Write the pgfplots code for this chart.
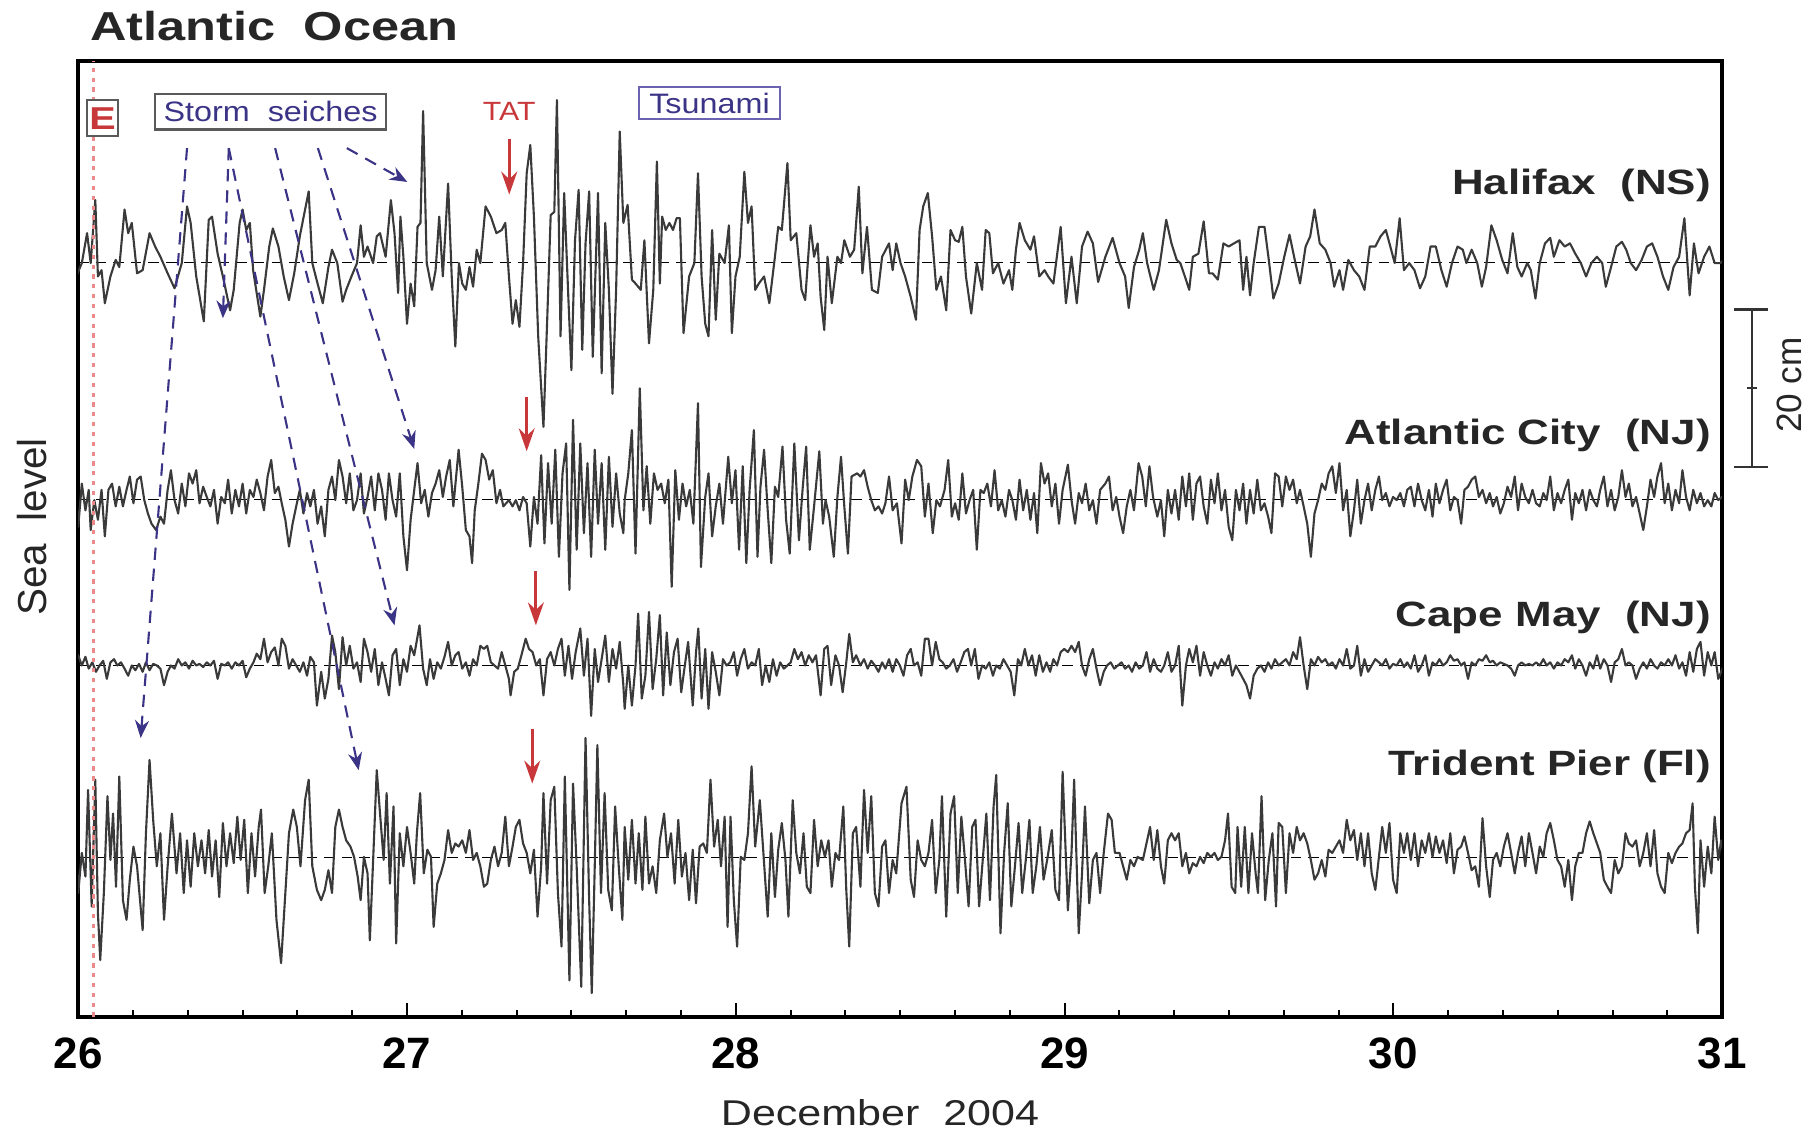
\documentclass[border=0pt]{standalone}
\usepackage{fontspec}
\setmainfont{Liberation Sans}
\newfontfamily\wideB{Liberation Sans}[FakeStretch=1.25]
\newfontfamily\wideR{Liberation Sans}[FakeStretch=1.15]
\newfontfamily\wideX{Liberation Sans}[FakeStretch=1.2]
\usepackage{pgfplots}
\pgfplotsset{compat=1.18}
\usepackage{pgfplotstable}
\usetikzlibrary{arrows.meta}

\definecolor{trace}{HTML}{3A3A3A}
\definecolor{seiche}{HTML}{3B3486}
\definecolor{tatred}{HTML}{C8383A}
\definecolor{eqred}{HTML}{EB8A8A}
\definecolor{boxgray}{HTML}{5A5A5A}
\definecolor{tsubox}{HTML}{6B63B0}

\tikzset{
  trace/.style={draw=trace, line width=0.6pt, line join=round},
  base/.style={black, line width=0.4pt, dash pattern=on 3pt off 2pt},
}

% sea level anomalies, cm; time in days of December 2004
\pgfplotstableread[row sep=\\]{
t h\\
25.994 -1.8\\26.011 -0.1\\26.027 3.7\\26.038 -0.1\\26.052 7.9\\26.060 -1.8\\26.071 -1.0\\26.081 -5.2\\26.098 -1.8\\26.114 0.3\\
26.125 -0.6\\26.141 6.7\\26.152 3.7\\26.163 5.0\\26.179 -1.4\\26.196 -1.0\\26.217 3.7\\26.234 2.0\\26.250 0.7\\26.272 -1.4\\
26.293 -3.3\\26.315 -0.1\\26.331 7.1\\26.342 5.0\\26.359 -1.8\\26.382 -7.5\\26.397 5.4\\26.407 5.8\\26.424 1.1\\26.440 -1.8\\
26.462 -6.1\\26.473 -3.5\\26.491 5.0\\26.500 6.7\\26.511 4.1\\26.522 5.0\\26.532 -1.0\\26.554 -6.9\\26.565 -3.5\\26.581 2.0\\
26.592 4.3\\26.609 2.0\\26.625 -1.8\\26.641 -4.8\\26.657 -1.4\\26.674 3.3\\26.690 6.7\\26.701 9.0\\26.712 -0.1\\26.728 -2.7\\
26.744 -5.2\\26.761 -0.6\\26.772 1.6\\26.788 -0.1\\26.804 -5.0\\26.815 -3.5\\26.831 -1.8\\26.848 -0.1\\26.859 4.7\\26.869 0.7\\
26.880 2.0\\26.897 -0.1\\26.908 3.3\\26.918 3.7\\26.935 0.7\\26.951 7.9\\26.962 3.7\\26.973 -3.9\\26.980 5.8\\26.989 0.7\\
27.000 -7.8\\27.011 -2.7\\27.022 -5.6\\27.032 4.5\\27.041 5.0\\27.049 19.2\\27.060 -0.1\\27.076 -3.5\\27.087 -1.0\\27.098 5.8\\
27.109 -1.8\\27.125 10.0\\27.136 -1.8\\27.147 -10.7\\27.158 -0.1\\27.168 -2.7\\27.179 -3.5\\27.190 -0.6\\27.201 -3.1\\27.212 1.6\\
27.223 -0.1\\27.239 7.1\\27.255 5.8\\27.272 3.7\\27.288 4.1\\27.299 5.0\\27.310 -1.8\\27.321 -7.8\\27.331 -4.8\\27.342 -8.2\\
27.353 -0.1\\27.364 11.3\\27.375 14.9\\27.386 5.8\\27.399 -9.4\\27.415 -20.9\\27.426 -7.8\\27.437 6.0\\27.448 6.4\\27.456 20.6\\
27.467 -9.4\\27.478 8.8\\27.491 -4.8\\27.500 -13.7\\27.511 2.8\\27.522 9.2\\27.533 -11.1\\27.543 2.4\\27.554 9.0\\27.565 -12.0\\
27.581 8.8\\27.592 -14.1\\27.603 5.0\\27.614 -3.5\\27.625 -16.7\\27.636 -3.5\\27.647 16.6\\27.658 5.0\\27.671 7.3\\27.684 -2.2\\
27.695 -2.7\\27.711 -3.5\\27.722 2.8\\27.736 -10.3\\27.749 -3.5\\27.760 12.8\\27.769 -2.7\\27.776 5.8\\27.787 4.1\\27.798 5.0\\
27.809 4.1\\27.820 5.6\\27.830 5.6\\27.841 -9.0\\27.858 -1.8\\27.874 -0.1\\27.885 11.3\\27.896 -1.8\\27.907 -7.8\\27.917 -9.4\\
27.928 4.1\\27.939 -7.3\\27.950 1.1\\27.966 -0.1\\27.979 4.7\\27.988 -9.0\\27.999 -1.8\\28.012 0.7\\28.026 11.5\\28.037 5.0\\
28.048 7.1\\28.059 -3.5\\28.070 -2.7\\28.086 -1.8\\28.102 -5.2\\28.119 0.7\\28.129 4.5\\28.140 4.1\\28.157 12.6\\28.167 2.8\\
28.184 3.7\\28.200 -3.5\\28.211 -4.8\\28.227 4.7\\28.238 0.7\\28.249 2.4\\28.258 -4.4\\28.269 -8.6\\28.279 0.7\\28.292 -5.2\\
28.309 0.7\\28.320 -0.1\\28.330 2.8\\28.347 0.7\\28.360 1.6\\28.374 9.6\\28.385 -1.4\\28.399 4.5\\28.414 -3.5\\28.432 -3.9\\
28.445 0.7\\28.466 2.4\\28.477 -1.0\\28.488 2.4\\28.501 -0.1\\28.515 -1.8\\28.532 -4.4\\28.548 -7.3\\28.559 4.1\\28.570 7.1\\
28.584 8.8\\28.597 3.3\\28.610 -3.5\\28.624 -1.8\\28.640 -6.1\\28.653 4.1\\28.667 2.8\\28.678 2.6\\28.689 4.5\\28.700 -1.8\\
28.716 -6.5\\28.733 -0.1\\28.749 -3.5\\28.760 4.1\\28.771 3.7\\28.782 -1.4\\28.798 -0.1\\28.814 -2.7\\28.831 -1.0\\28.841 -3.5\\
28.852 1.6\\28.863 5.0\\28.879 2.8\\28.896 1.6\\28.907 3.3\\28.923 -1.8\\28.939 -1.0\\28.950 -1.8\\28.966 -2.7\\28.988 4.5\\
29.004 -5.2\\29.021 0.7\\29.037 -5.2\\29.053 2.0\\29.070 3.9\\29.086 2.4\\29.102 -2.5\\29.124 0.7\\29.146 3.1\\29.167 -0.1\\
29.184 -1.8\\29.195 -5.8\\29.211 -0.6\\29.227 1.6\\29.238 3.7\\29.251 -0.1\\29.271 -3.5\\29.287 -1.0\\29.309 5.4\\29.325 2.4\\
29.341 0.3\\29.352 -0.1\\29.369 -2.2\\29.379 -3.5\\29.390 0.7\\29.407 1.1\\29.423 5.2\\29.439 -1.4\\29.450 -1.4\\29.466 -2.2\\
29.483 2.4\\29.499 2.0\\29.515 2.4\\29.532 2.8\\29.543 -3.5\\29.553 0.7\\29.564 -4.2\\29.575 -0.1\\29.591 4.5\\29.608 4.5\\
29.621 0.3\\29.635 -4.6\\29.651 -2.7\\29.668 0.7\\29.684 3.5\\29.700 0.3\\29.716 -2.7\\29.733 2.0\\29.747 3.3\\29.760 6.7\\
29.776 2.4\\29.793 1.6\\29.809 -0.1\\29.820 -3.1\\29.836 -1.0\\29.847 -3.5\\29.863 0.3\\29.880 -1.0\\29.896 -1.8\\29.912 -3.5\\
29.928 2.0\\29.945 2.0\\29.961 3.3\\29.977 4.1\\29.988 2.4\\30.004 -0.1\\30.019 5.6\\30.032 -1.0\\30.048 -0.1\\30.064 -1.0\\
30.081 -3.3\\30.097 -1.8\\30.113 2.0\\30.129 2.0\\30.146 -1.0\\30.162 -3.1\\30.178 -0.1\\30.195 2.0\\30.211 1.6\\30.222 -0.1\\
30.238 1.6\\30.255 -0.1\\30.269 -3.1\\30.282 -0.6\\30.298 4.7\\30.314 2.8\\30.331 0.3\\30.347 -1.4\\30.363 3.7\\30.377 -0.6\\
30.390 -1.8\\30.407 -0.1\\30.418 -1.0\\30.432 -4.6\\30.445 -0.1\\30.461 2.4\\30.477 3.1\\30.488 0.7\\30.505 2.8\\30.521 2.0\\
30.537 2.4\\30.553 1.1\\30.570 -0.1\\30.586 -1.8\\30.602 -0.1\\30.619 0.7\\30.635 -0.1\\30.646 -3.1\\30.662 -0.6\\30.678 2.0\\
30.695 2.6\\30.708 1.6\\30.722 -0.1\\30.738 -1.0\\30.755 0.3\\30.771 2.0\\30.787 2.4\\30.803 0.7\\30.820 -1.8\\30.836 -3.5\\
30.852 -0.6\\30.869 0.7\\30.885 5.6\\30.901 -4.2\\30.914 2.4\\30.928 -1.4\\30.945 0.7\\30.961 2.0\\30.977 -0.1\\30.994 -0.1\\
31.005 0.3\\
}\halifax

\pgfplotstableread[row sep=\\]{
t h\\
25.989 2.5\\26.000 -3.5\\26.011 2.0\\26.022 -1.4\\26.032 1.2\\26.038 -3.9\\26.049 -0.1\\26.060 -2.6\\26.071 1.2\\26.081 -4.7\\
26.092 1.2\\26.103 2.0\\26.114 -0.9\\26.125 1.6\\26.136 -0.9\\26.147 1.2\\26.157 2.9\\26.168 -0.5\\26.179 2.5\\26.190 2.9\\
26.201 -0.1\\26.212 -1.8\\26.223 -3.1\\26.237 -3.9\\26.250 -2.2\\26.261 -3.1\\26.272 1.2\\26.282 3.7\\26.293 -0.1\\26.304 -1.8\\
26.315 2.0\\26.326 -0.9\\26.337 3.3\\26.348 2.0\\26.359 3.7\\26.369 -0.5\\26.380 1.6\\26.391 0.3\\26.402 -0.9\\26.413 1.2\\
26.424 -3.1\\26.435 0.3\\26.446 -0.5\\26.456 2.5\\26.467 -1.8\\26.478 1.2\\26.489 -0.9\\26.500 2.0\\26.511 -1.8\\26.522 1.2\\
26.533 0.3\\26.543 2.5\\26.554 0.8\\26.565 -1.4\\26.576 2.9\\26.587 5.0\\26.598 0.8\\26.609 1.6\\26.619 -0.5\\26.630 -2.6\\
26.641 -6.0\\26.652 -3.1\\26.663 -0.9\\26.674 1.2\\26.685 -1.8\\26.696 0.8\\26.706 -0.9\\26.717 1.2\\26.728 -3.1\\26.739 -0.9\\
26.750 -4.7\\26.761 1.2\\26.772 2.9\\26.782 -0.1\\26.793 5.0\\26.804 2.9\\26.815 -0.5\\26.826 3.3\\26.837 -1.4\\26.848 -0.1\\
26.859 3.3\\26.869 -1.8\\26.880 0.3\\26.891 2.9\\26.902 -1.4\\26.913 3.3\\26.924 1.2\\26.935 -2.6\\26.945 3.3\\26.956 -0.1\\
26.967 -2.2\\26.978 3.3\\26.989 -4.7\\27.000 -9.0\\27.011 -2.6\\27.022 1.2\\27.032 4.6\\27.043 -0.5\\27.054 1.2\\27.065 -2.2\\
27.076 0.8\\27.087 2.0\\27.098 3.7\\27.109 0.3\\27.119 2.9\\27.130 5.0\\27.141 -0.9\\27.157 6.3\\27.168 1.6\\27.179 -3.9\\
27.190 -4.7\\27.198 -8.1\\27.206 -1.4\\27.217 2.0\\27.228 5.8\\27.239 5.0\\27.250 2.5\\27.261 3.7\\27.272 -0.5\\27.283 1.2\\
27.293 -0.9\\27.310 -0.1\\27.321 -0.9\\27.331 -0.1\\27.342 -1.4\\27.353 0.3\\27.364 -0.5\\27.375 -6.0\\27.386 0.3\\27.397 -3.1\\
27.408 5.6\\27.418 -5.6\\27.429 4.6\\27.440 -3.1\\27.451 6.3\\27.462 -7.3\\27.473 3.3\\27.484 7.1\\27.494 -11.5\\27.505 10.1\\
27.516 -6.4\\27.527 7.1\\27.538 -4.3\\27.549 4.6\\27.560 -7.3\\27.571 6.3\\27.581 -3.1\\27.592 4.6\\27.603 -6.4\\27.614 5.4\\
27.625 -3.5\\27.636 3.3\\27.647 -1.8\\27.658 -4.3\\27.662 -0.1\\27.673 3.3\\27.684 8.8\\27.695 -6.9\\27.708 14.1\\27.719 -1.4\\
27.729 4.2\\27.740 -3.1\\27.751 3.3\\27.762 1.2\\27.773 2.0\\27.784 -0.5\\27.795 2.5\\27.805 -11.1\\27.816 3.7\\27.827 -2.6\\
27.838 2.0\\27.849 -0.9\\27.860 1.2\\27.871 -3.1\\27.885 12.2\\27.894 -8.6\\27.907 0.3\\27.917 3.3\\27.928 -4.7\\27.939 -0.9\\
27.950 2.0\\27.961 -3.1\\27.977 5.4\\27.988 -0.5\\27.999 3.7\\28.010 -6.4\\28.021 4.2\\28.032 -8.1\\28.042 1.2\\28.055 8.8\\
28.066 -7.3\\28.075 1.6\\28.086 6.3\\28.097 -1.4\\28.108 -8.1\\28.119 1.6\\28.129 0.3\\28.142 6.7\\28.153 -2.6\\28.164 -6.9\\
28.178 7.1\\28.192 -5.2\\28.203 1.2\\28.214 6.7\\28.225 -6.4\\28.238 -0.9\\28.254 6.1\\28.265 -3.1\\28.273 -0.1\\28.284 -2.2\\
28.298 -7.3\\28.309 0.3\\28.320 5.4\\28.330 -0.9\\28.341 -6.9\\28.352 2.9\\28.369 3.3\\28.379 2.9\\28.390 3.7\\28.401 1.6\\
28.412 -0.1\\28.423 -1.4\\28.434 -0.9\\28.445 -1.8\\28.455 -0.5\\28.466 2.9\\28.477 -1.4\\28.490 -0.5\\28.504 -5.6\\28.515 2.5\\
28.526 -0.1\\28.537 2.9\\28.551 5.0\\28.564 4.2\\28.575 -2.2\\28.586 2.0\\28.599 -4.3\\28.610 -0.1\\28.621 -0.9\\28.635 1.2\\
28.646 5.0\\28.657 -2.2\\28.667 -0.5\\28.678 -2.6\\28.689 3.3\\28.700 -1.8\\28.711 -0.1\\28.722 1.2\\28.733 -6.4\\28.744 1.2\\
28.754 0.8\\28.765 2.0\\28.776 -0.9\\28.787 3.7\\28.798 -1.4\\28.809 -0.1\\28.820 -2.2\\28.831 1.2\\28.841 -0.1\\28.852 -2.6\\
28.863 2.5\\28.874 -1.4\\28.885 1.2\\28.896 -2.6\\28.907 0.8\\28.917 -4.3\\28.928 4.6\\28.939 2.0\\28.950 3.3\\28.961 -0.9\\
28.972 2.0\\28.983 -3.1\\28.994 1.2\\29.010 4.4\\29.021 -0.1\\29.032 -3.1\\29.043 0.8\\29.053 -0.5\\29.064 2.0\\29.075 -1.4\\
29.086 -0.1\\29.097 -3.1\\29.108 1.2\\29.124 2.0\\29.135 2.9\\29.146 -1.4\\29.157 0.3\\29.167 -2.2\\29.178 -4.3\\29.189 -0.9\\
29.200 1.2\\29.211 -1.4\\29.225 4.6\\29.236 2.9\\29.247 -0.9\\29.258 4.2\\29.269 0.3\\29.282 -2.2\\29.293 -0.1\\29.303 -4.7\\
29.314 1.2\\29.325 -1.8\\29.336 1.2\\29.347 -2.6\\29.358 2.9\\29.369 -0.9\\29.379 3.3\\29.390 -2.6\\29.401 2.0\\29.412 2.9\\
29.423 -0.9\\29.434 -3.1\\29.445 2.5\\29.456 -0.5\\29.466 3.3\\29.477 -1.4\\29.488 1.2\\29.499 -3.5\\29.510 -5.2\\29.521 1.2\\
29.532 -1.4\\29.543 2.0\\29.553 -3.1\\29.564 1.2\\29.575 -1.8\\29.586 2.5\\29.597 -1.4\\29.608 -0.5\\29.619 -2.2\\29.629 -4.3\\
29.640 3.3\\29.651 2.9\\29.662 -0.9\\29.673 2.9\\29.684 1.2\\29.695 2.5\\29.706 -0.5\\29.716 1.2\\29.727 -0.9\\29.738 -3.1\\
29.749 -7.3\\29.760 -1.8\\29.771 -0.1\\29.782 2.0\\29.793 1.2\\29.803 3.3\\29.814 4.2\\29.825 0.8\\29.836 4.6\\29.847 -1.4\\
29.858 1.2\\29.869 -4.7\\29.880 -1.4\\29.890 2.5\\29.901 -3.1\\29.912 -0.1\\29.923 2.0\\29.934 -1.4\\29.945 1.2\\29.956 2.9\\
29.966 -0.1\\29.977 0.8\\29.988 -0.9\\29.999 0.3\\30.010 -0.1\\30.021 0.8\\30.032 -0.9\\30.042 1.2\\30.053 1.6\\30.064 -0.9\\
30.075 2.0\\30.086 -0.1\\30.097 -1.4\\30.108 1.2\\30.119 -2.2\\30.129 2.0\\30.140 -0.5\\30.151 1.2\\30.162 2.5\\30.173 -1.4\\
30.184 0.3\\30.195 -0.1\\30.206 -3.1\\30.216 1.2\\30.227 1.6\\30.238 2.5\\30.249 2.9\\30.260 0.3\\30.271 1.2\\30.282 -0.5\\
30.293 0.8\\30.303 -0.9\\30.314 0.3\\30.325 -1.8\\30.336 -0.5\\30.347 1.6\\30.358 0.3\\30.369 2.9\\30.379 -1.4\\30.390 2.0\\
30.401 0.3\\30.412 -0.5\\30.423 1.2\\30.434 -0.5\\30.445 -0.9\\30.456 0.8\\30.466 -0.1\\30.477 2.9\\30.488 -1.4\\30.499 0.8\\
30.510 -0.5\\30.521 1.2\\30.532 2.5\\30.543 -2.6\\30.553 0.8\\30.564 -0.5\\30.575 1.2\\30.586 -1.4\\30.597 1.2\\30.608 -0.1\\
30.619 -0.9\\30.629 1.2\\30.640 2.9\\30.651 -0.9\\30.662 1.2\\30.673 -1.4\\30.684 0.3\\30.695 3.7\\30.706 0.3\\30.716 2.0\\
30.727 -0.9\\30.738 0.3\\30.749 -1.8\\30.760 -3.9\\30.771 -0.9\\30.782 2.5\\30.793 0.3\\30.803 2.9\\30.814 4.6\\30.825 -0.5\\
30.836 2.0\\30.847 -1.4\\30.858 1.2\\30.869 -0.5\\30.879 3.7\\30.890 0.3\\30.901 -1.4\\30.912 1.2\\30.923 -0.5\\30.934 0.8\\
30.945 -0.9\\30.956 -0.1\\30.967 -0.9\\30.977 0.8\\30.988 -0.1\\31.005 0.5\\
}\atlcity

\pgfplotstableread[row sep=\\]{
t h\\
25.989 0.8\\26.000 1.3\\26.011 0\\26.022 1.1\\26.032 -0.4\\26.043 0.4\\26.054 -0.8\\26.065 0\\26.076 0.6\\26.087 -1.7\\
26.098 0.4\\26.109 0.8\\26.119 0\\26.130 0.4\\26.141 -0.4\\26.152 -1.3\\26.163 0\\26.174 -0.6\\26.185 0.2\\26.196 -0.8\\
26.206 0.4\\26.217 -0.6\\26.228 0.2\\26.239 0\\26.250 -0.4\\26.261 -2.5\\26.272 -0.8\\26.282 0\\26.293 -0.4\\26.304 0.8\\
26.315 0\\26.326 0.4\\26.337 -0.4\\26.348 0.6\\26.359 0\\26.369 0.2\\26.380 -0.2\\26.391 0.4\\26.402 0\\26.413 0.6\\
26.424 -1.7\\26.435 0.2\\26.446 0\\26.456 0.4\\26.467 -0.4\\26.478 0.4\\26.489 0\\26.500 0.6\\26.511 -1.5\\26.522 -0.4\\
26.533 0.4\\26.543 1.5\\26.554 0.8\\26.565 3.4\\26.576 0.4\\26.587 1.7\\26.598 2.3\\26.609 0\\26.619 3.4\\26.630 2.5\\
26.641 -0.4\\26.652 0.8\\26.663 0\\26.674 -0.8\\26.685 0.4\\26.696 -1.3\\26.706 1.1\\26.717 0.4\\26.726 -5.1\\26.739 -0.8\\
26.750 -4.2\\26.761 -1.7\\26.772 3.8\\26.782 1.7\\26.793 -3.0\\26.804 3.6\\26.815 0\\26.826 2.5\\26.837 -0.4\\26.848 0.4\\
26.859 -2.1\\26.869 3.4\\26.880 1.7\\26.891 -0.8\\26.902 2.1\\26.913 -2.5\\26.924 0.4\\26.935 -1.7\\26.945 -3.8\\26.956 1.3\\
26.967 2.1\\26.978 -2.5\\26.989 0.8\\27.000 -0.8\\27.011 2.5\\27.022 1.3\\27.038 5.1\\27.049 -0.4\\27.060 -2.5\\27.070 0.8\\
27.081 -1.7\\27.092 0.4\\27.103 -0.4\\27.114 1.1\\27.125 3.0\\27.136 0\\27.147 1.3\\27.157 1.7\\27.168 -0.4\\27.179 0.4\\
27.190 -1.3\\27.201 0.8\\27.212 0\\27.223 2.5\\27.234 2.1\\27.244 2.5\\27.255 0.4\\27.266 0\\27.277 -0.4\\27.288 1.7\\
27.299 0\\27.310 -1.7\\27.315 -3.8\\27.326 -0.8\\27.337 -0.4\\27.348 1.3\\27.361 3.4\\27.371 2.1\\27.382 1.7\\27.393 0\\
27.404 0.8\\27.415 -3.8\\27.426 0.8\\27.437 1.7\\27.448 0\\27.459 2.1\\27.470 3.4\\27.480 -1.3\\27.491 2.5\\27.502 -1.7\\
27.513 1.7\\27.527 4.7\\27.538 -1.3\\27.549 3.4\\27.560 -6.4\\27.571 2.1\\27.581 -2.1\\27.592 0.8\\27.603 3.8\\27.614 -2.1\\
27.625 2.1\\27.636 -0.4\\27.647 3.0\\27.658 -2.5\\27.662 -5.5\\27.673 0\\27.684 -5.1\\27.695 0\\27.703 6.6\\27.714 -4.2\\
27.725 -1.3\\27.736 6.8\\27.747 -3.0\\27.758 0.8\\27.769 6.4\\27.779 -3.8\\27.790 4.2\\27.801 -2.5\\27.812 1.7\\27.823 3.4\\
27.834 -3.4\\27.845 0\\27.855 3.0\\27.869 -5.1\\27.879 1.7\\27.886 4.7\\27.896 -4.2\\27.907 2.1\\27.917 -5.5\\27.928 1.7\\
27.939 -0.8\\27.950 -3.8\\27.961 0.8\\27.972 0\\27.983 0.4\\27.994 1.7\\28.004 -1.3\\28.015 0.8\\28.026 2.1\\28.037 -0.4\\
28.048 0.4\\28.059 0\\28.070 2.1\\28.080 -2.5\\28.091 0\\28.102 -2.1\\28.113 0.8\\28.124 -1.3\\28.135 0.4\\28.146 -0.4\\
28.157 0\\28.167 0.4\\28.178 2.1\\28.189 0.8\\28.200 1.7\\28.211 0\\28.222 1.3\\28.233 0.4\\28.244 1.3\\28.258 -3.8\\
28.269 2.1\\28.279 2.5\\28.290 -2.5\\28.303 1.3\\28.314 0\\28.325 -3.4\\28.336 0.4\\28.345 4.0\\28.356 0.4\\28.366 1.3\\
28.379 0\\28.390 0.8\\28.401 -0.4\\28.412 0.6\\28.423 0\\28.434 -0.8\\28.445 0.4\\28.455 -0.4\\28.466 0.8\\28.477 -0.8\\
28.488 0.8\\28.499 0\\28.510 -1.3\\28.521 1.3\\28.532 2.1\\28.542 0\\28.553 0.4\\28.564 -1.3\\28.575 3.4\\28.586 3.4\\
28.597 0\\28.608 3.0\\28.619 0.8\\28.629 0.4\\28.640 -0.4\\28.651 0\\28.662 0.8\\28.673 -0.8\\28.684 0.4\\28.695 1.7\\
28.706 2.1\\28.716 0\\28.727 2.1\\28.738 -1.7\\28.749 0\\28.760 -0.4\\28.771 0.4\\28.782 -1.3\\28.792 0\\28.803 -0.4\\
28.814 0.8\\28.825 0\\28.836 -0.8\\28.847 -3.8\\28.858 0.8\\28.868 0\\28.879 2.1\\28.890 0\\28.901 1.3\\28.912 -1.3\\
28.923 1.3\\28.934 -0.8\\28.945 0.4\\28.956 -0.8\\28.966 0.8\\28.977 0\\28.988 1.7\\28.999 2.1\\29.010 1.7\\29.021 2.5\\
29.032 1.7\\29.043 3.0\\29.053 0\\29.064 -1.3\\29.075 0.8\\29.086 2.1\\29.097 -0.4\\29.108 -2.5\\29.119 -0.8\\29.129 0\\
29.140 0.4\\29.151 -0.4\\29.162 0\\29.173 0.4\\29.184 -0.4\\29.195 0\\29.205 -0.8\\29.216 0.4\\29.227 -0.4\\29.238 0\\
29.249 1.7\\29.260 -0.8\\29.271 0.8\\29.282 -0.4\\29.293 -0.8\\29.303 0\\29.314 1.7\\29.325 -0.8\\29.336 0\\29.347 2.5\\
29.358 -5.1\\29.369 0\\29.379 2.1\\29.390 0.4\\29.401 2.5\\29.412 -1.3\\29.423 1.7\\29.434 0\\29.445 -1.3\\29.456 0.4\\
29.466 -0.4\\29.477 0.8\\29.488 0\\29.499 1.3\\29.510 -1.3\\29.521 0\\29.543 -1.7\\29.553 -2.5\\29.564 -4.2\\29.575 -1.3\\
29.586 -0.4\\29.597 0\\29.608 -0.8\\29.619 0.4\\29.629 -0.4\\29.640 0.8\\29.651 0\\29.662 0.4\\29.673 0.8\\29.684 0\\
29.695 1.7\\29.706 0.8\\29.716 3.6\\29.727 0\\29.738 -3.0\\29.749 0.8\\29.760 0\\29.771 1.1\\29.782 0.4\\29.793 0.8\\
29.803 0\\29.814 0.4\\29.825 -0.4\\29.836 0.8\\29.847 0\\29.858 2.1\\29.869 -0.4\\29.880 0\\29.890 2.5\\29.901 -1.3\\
29.912 0.8\\29.923 -0.8\\29.934 0\\29.945 0.8\\29.956 0.4\\29.966 0\\29.977 0.8\\29.988 -0.4\\29.999 0.2\\30.010 0\\
30.021 0.8\\30.032 -0.2\\30.042 0.4\\30.053 -0.4\\30.064 1.3\\30.075 -0.8\\30.086 0\\30.097 1.3\\30.108 -1.3\\30.119 0.4\\
30.129 0\\30.140 0.8\\30.151 0\\30.162 0.4\\30.173 1.3\\30.184 0.6\\30.195 0.8\\30.206 0\\30.216 0.4\\30.227 -1.7\\
30.238 0.4\\30.249 0\\30.260 0.8\\30.271 0.6\\30.282 1.3\\30.293 0.4\\30.303 0.6\\30.314 0\\30.325 0.4\\30.336 0.2\\
30.347 0\\30.358 -0.4\\30.369 -1.3\\30.379 0\\30.390 0.4\\30.401 0\\30.412 0.2\\30.423 0\\30.434 0.4\\30.445 0\\
30.456 0.8\\30.466 0\\30.477 0.4\\30.488 -0.4\\30.499 0.4\\30.510 0\\30.521 0.8\\30.532 0.4\\30.543 1.3\\30.553 -0.4\\
30.564 0.8\\30.575 0\\30.586 -1.3\\30.597 0.4\\30.608 -0.4\\30.619 1.3\\30.629 -0.4\\30.640 0.8\\30.651 0\\30.662 -2.1\\
30.673 0.4\\30.684 0.8\\30.695 2.1\\30.706 0\\30.716 0.4\\30.727 0\\30.738 -1.7\\30.749 -0.4\\30.760 0.4\\30.771 -0.4\\
30.782 0.8\\30.793 0\\30.803 -0.4\\30.814 0.4\\30.825 0\\30.836 0.8\\30.847 0\\30.858 1.3\\30.869 -0.4\\30.879 0.4\\
30.890 -1.3\\30.901 1.7\\30.912 -0.8\\30.923 2.1\\30.934 3.0\\30.945 -1.3\\30.956 1.7\\30.967 0\\30.977 1.7\\30.988 -1.7\\
31.005 0\\
}\capemay

\pgfplotstableread[row sep=\\]{
t h\\
25.989 3.9\\26.000 -4.5\\26.011 0.6\\26.022 -2.4\\26.030 8.6\\26.041 -6.2\\26.052 9.9\\26.060 -7.1\\26.067 -13.0\\26.078 -4.5\\
26.089 7.8\\26.098 -0.3\\26.106 5.6\\26.115 -3.7\\26.125 10.3\\26.136 -5.4\\26.147 -7.9\\26.157 -2.8\\26.168 1.4\\26.179 -1.1\\
26.196 -9.2\\26.206 3.1\\26.217 12.4\\26.228 4.8\\26.239 -1.1\\26.250 3.1\\26.261 -7.9\\26.272 -1.1\\26.285 5.6\\26.299 -2.0\\
26.310 3.1\\26.321 -4.5\\26.331 2.2\\26.342 -3.7\\26.353 3.1\\26.364 -1.1\\26.375 2.2\\26.386 -2.0\\26.397 3.5\\26.407 -2.4\\
26.418 2.2\\26.429 -5.0\\26.440 4.4\\26.451 -1.1\\26.462 3.1\\26.473 -0.7\\26.484 5.2\\26.494 -0.3\\26.505 4.8\\26.516 -4.5\\
26.527 3.1\\26.538 -2.4\\26.549 3.9\\26.556 6.1\\26.567 -4.5\\26.578 -1.1\\26.589 3.1\\26.603 -7.9\\26.617 -13.4\\26.630 -4.5\\
26.641 3.1\\26.654 6.1\\26.665 3.9\\26.676 -1.1\\26.690 7.3\\26.701 9.9\\26.712 -1.1\\26.726 -4.1\\26.739 -5.4\\26.750 -4.1\\
26.761 -1.6\\26.772 -4.5\\26.782 3.9\\26.793 6.1\\26.804 3.9\\26.815 2.2\\26.828 1.4\\26.839 0.1\\26.850 -2.4\\26.859 -5.4\\
26.869 0.1\\26.880 -2.0\\26.887 -10.5\\26.897 -0.3\\26.908 11.1\\26.918 5.6\\26.929 -0.3\\26.938 8.2\\26.948 -3.3\\26.959 6.5\\
26.967 -10.9\\26.978 3.1\\26.989 -1.1\\27.000 3.9\\27.011 0.6\\27.022 -3.3\\27.030 3.1\\27.040 8.2\\27.051 -2.0\\27.062 1.0\\
27.073 0.1\\27.081 -8.8\\27.092 -3.3\\27.103 -2.0\\27.114 -0.3\\27.125 3.5\\27.136 0.6\\27.147 1.8\\27.157 1.4\\27.168 2.2\\
27.179 0.6\\27.190 3.5\\27.201 -0.3\\27.212 0.6\\27.223 -1.1\\27.234 -3.7\\27.244 -3.3\\27.255 -0.3\\27.266 1.4\\27.277 -1.1\\
27.288 0.6\\27.299 5.2\\27.310 -1.1\\27.321 1.4\\27.331 3.9\\27.342 4.8\\27.353 1.8\\27.364 0.6\\27.375 -2.0\\27.386 1.0\\
27.397 -7.5\\27.408 -1.1\\27.415 8.2\\27.426 -3.3\\27.437 7.3\\27.448 9.0\\27.459 -4.5\\27.470 -11.3\\27.480 10.3\\27.494 -15.6\\
27.505 9.4\\27.516 -1.1\\27.530 -16.4\\27.543 15.2\\27.554 -5.4\\27.562 -17.2\\27.571 -1.1\\27.579 14.3\\27.590 -4.5\\27.601 8.2\\
27.612 -4.1\\27.623 -6.7\\27.633 6.5\\27.644 -1.1\\27.655 -7.9\\27.662 3.9\\27.673 -2.8\\27.684 4.8\\27.695 -3.3\\27.705 3.1\\
27.716 -4.1\\27.725 5.2\\27.736 -3.3\\27.747 -1.1\\27.758 -4.5\\27.769 2.2\\27.782 5.6\\27.792 0.1\\27.803 3.1\\27.814 -3.3\\
27.825 4.8\\27.836 -2.4\\27.847 0.6\\27.858 -5.4\\27.869 1.0\\27.879 -5.8\\27.890 1.4\\27.901 1.8\\27.912 0.6\\27.923 9.9\\
27.934 1.4\\27.945 4.8\\27.955 -1.1\\27.966 5.2\\27.975 -8.8\\27.984 5.2\\27.994 -5.4\\28.004 -11.3\\28.015 0.1\\28.026 -0.3\\
28.037 3.1\\28.048 11.6\\28.059 1.4\\28.073 7.3\\28.086 -0.7\\28.097 -7.5\\28.108 3.1\\28.119 -5.0\\28.129 1.0\\28.140 4.4\\
28.151 -0.3\\28.160 -7.5\\28.173 7.3\\28.184 0.6\\28.195 -2.0\\28.206 3.1\\28.216 -3.7\\28.227 -4.5\\28.238 4.8\\28.249 -1.1\\
28.260 2.2\\28.271 0.1\\28.282 2.2\\28.292 -3.7\\28.303 0.6\\28.314 -0.3\\28.327 6.5\\28.336 -4.1\\28.345 -11.3\\28.356 3.1\\
28.366 3.9\\28.379 -3.7\\28.390 8.6\\28.401 0.6\\28.412 7.8\\28.423 -4.5\\28.434 -6.2\\28.445 1.4\\28.455 2.2\\28.466 -4.5\\
28.477 -0.3\\28.488 -2.0\\28.504 6.9\\28.519 9.0\\28.532 -2.8\\28.542 -5.0\\28.553 2.2\\28.564 -0.3\\28.575 -1.1\\28.586 0.6\\
28.597 4.8\\28.608 -4.5\\28.619 -0.3\\28.627 7.8\\28.640 -7.5\\28.653 5.6\\28.664 7.8\\28.675 -4.5\\28.686 5.2\\28.697 -0.3\\
28.708 -6.2\\28.719 3.9\\28.729 4.8\\28.740 -6.2\\28.751 -0.3\\28.762 5.6\\28.773 -5.4\\28.784 6.5\\28.792 10.5\\28.805 -9.6\\
28.816 0.6\\28.827 6.9\\28.838 -6.2\\28.849 -1.1\\28.860 4.4\\28.871 -4.5\\28.882 -0.3\\28.893 4.8\\28.903 -4.5\\28.914 -1.1\\
28.925 3.9\\28.936 -2.8\\28.947 -0.3\\28.961 3.5\\28.972 -4.1\\28.983 -5.4\\28.994 10.9\\29.010 -6.7\\29.021 0.6\\29.029 9.9\\
29.043 -9.6\\29.053 -2.0\\29.062 6.5\\29.075 -5.8\\29.086 -0.3\\29.097 0.6\\29.108 -4.5\\29.119 0.6\\29.132 5.6\\29.143 4.8\\
29.153 0.6\\29.167 0.6\\29.178 -1.1\\29.189 -2.8\\29.200 -0.3\\29.211 -1.1\\29.222 0.1\\29.238 -0.3\\29.249 1.8\\29.260 3.9\\
29.271 -0.3\\29.282 3.5\\29.293 -1.1\\29.303 -3.3\\29.314 2.2\\29.325 3.1\\29.336 2.2\\29.347 3.1\\29.358 -1.1\\29.369 0.6\\
29.379 -2.0\\29.390 -0.7\\29.401 -1.1\\29.412 0.1\\29.423 -0.7\\29.434 0.6\\29.445 0.1\\29.456 0.6\\29.466 -0.3\\29.477 0.1\\
29.488 2.2\\29.497 5.6\\29.508 -3.7\\29.519 -4.5\\29.526 3.9\\29.537 -3.7\\29.548 3.9\\29.559 -4.5\\29.570 3.1\\29.581 -2.0\\
29.588 -4.5\\29.599 7.8\\29.610 -5.4\\29.621 -0.3\\29.632 3.1\\29.643 -6.2\\29.651 4.4\\29.662 3.9\\29.673 -4.5\\29.684 3.1\\
29.695 0.6\\29.706 3.9\\29.716 2.2\\29.727 3.1\\29.738 1.8\\29.749 -0.3\\29.760 -2.8\\29.771 -2.0\\29.782 -0.3\\29.793 -2.4\\
29.803 1.0\\29.814 0.6\\29.825 1.4\\29.836 2.2\\29.847 0.6\\29.858 4.8\\29.869 2.2\\29.880 3.5\\29.890 -0.3\\29.901 3.1\\
29.912 -1.1\\29.923 3.1\\29.934 -2.0\\29.945 -4.1\\29.956 0.1\\29.966 3.9\\29.977 0.6\\29.988 4.4\\29.999 -2.8\\30.010 -4.5\\
30.021 3.1\\30.032 0.6\\30.042 3.1\\30.053 -0.3\\30.064 3.1\\30.075 -1.1\\30.086 2.2\\30.097 0.6\\30.108 3.1\\30.119 0.1\\
30.129 2.7\\30.140 0.6\\30.151 2.2\\30.162 -0.7\\30.173 3.1\\30.184 -2.0\\30.195 1.0\\30.206 1.4\\30.216 2.7\\30.227 0.6\\
30.238 -1.6\\30.249 -1.1\\30.260 -3.7\\30.271 5.0\\30.282 -1.1\\30.293 -5.0\\30.303 -0.3\\30.314 0.6\\30.325 -1.1\\30.336 1.4\\
30.347 3.1\\30.358 0.6\\30.369 -2.0\\30.379 0.6\\30.390 2.7\\30.401 -1.1\\30.412 3.1\\30.423 0.6\\30.434 -2.0\\30.445 1.4\\
30.456 0.1\\30.466 3.1\\30.477 4.4\\30.488 2.2\\30.499 -0.3\\30.510 -1.1\\30.521 -3.7\\30.532 -0.3\\30.543 -5.4\\30.553 -1.1\\
30.564 0.6\\30.575 0.6\\30.586 3.1\\30.597 4.6\\30.608 3.1\\30.619 1.8\\30.629 0.6\\30.640 -2.8\\30.651 -3.7\\30.662 -4.5\\
30.673 -0.3\\30.684 -2.0\\30.695 -1.1\\30.706 3.1\\30.716 1.8\\30.727 1.4\\30.738 2.2\\30.749 -1.1\\30.760 0.6\\30.771 3.1\\
30.782 -1.1\\30.793 3.5\\30.803 -2.0\\30.814 -3.7\\30.825 -4.5\\30.836 0.6\\30.847 -0.7\\30.858 0.6\\30.869 1.4\\30.879 1.8\\
30.890 3.1\\30.901 3.5\\30.910 6.9\\30.917 -3.7\\30.926 -9.6\\30.934 2.2\\30.945 -3.7\\30.956 1.4\\30.967 -2.0\\30.977 5.2\\
30.988 -0.3\\30.997 2.2\\31.005 0.5\\
}\trident

\begin{document}
\begin{tikzpicture}
\path[use as bounding box] (0,0) rectangle (18.16,11.34);
\begin{axis}[
  at={(0.782cm,1.173cm)}, anchor=south west,
  scale only axis, width=16.44cm, height=9.56cm,
  xmin=26, xmax=31, ymin=0, ymax=121.4,
  axis line style={line width=1.1pt},
  ytick=\empty,
  xtick={26,27,28,29,30,31},
  xticklabels={26,27,28,29,30,31},
  minor x tick num=5,
  xtick pos=left,
  tick align=inside,
  major tick length=0.14cm, minor tick length=0.07cm,
  tick style={line width=0.6pt, black},
  /pgf/number format/assume math mode=true,
  xticklabel style={font=\fontsize{12.5}{13}\selectfont\bfseries, yshift=-2.5pt},
]
% zero lines
\draw[base] (axis cs:26,95.8) -- (axis cs:31,95.8);
\draw[base] (axis cs:26,65.7) -- (axis cs:31,65.7);
\draw[base] (axis cs:26,44.6) -- (axis cs:31,44.6);
\draw[base] (axis cs:26,20.2) -- (axis cs:31,20.2);

\addplot[trace] table[x=t, y expr=\thisrow{h}+95.8] {\halifax};
\addplot[trace] table[x=t, y expr=\thisrow{h}+65.7] {\atlcity};
\addplot[trace] table[x=t, y expr=\thisrow{h}+44.6] {\capemay};
\addplot[trace] table[x=t, y expr=\thisrow{h}+20.2] {\trident};

% earthquake time
\draw[eqred, line width=1pt, dash pattern=on 1.2pt off 1.6pt] (axis cs:26.046,0) -- (axis cs:26.046,121.4);
\node[draw=boxgray, fill=white, line width=0.6pt, inner sep=0pt, minimum width=9pt, minimum height=10.3pt,
      text=tatred, font=\wideB\bfseries\fontsize{9}{10}\selectfont] at (axis cs:26.074,114.1) {E};

% storm seiches
\node[draw=boxgray, fill=white, line width=0.6pt, inner xsep=2.5pt, inner ysep=0pt, minimum height=10pt,
      text=seiche, font=\wideR\fontsize{8}{9}\selectfont] at (axis cs:26.585,114.9) {Storm\ \ seiches};
\begin{scope}[seiche, line width=0.6pt, dash pattern=on 3.5pt off 2.5pt, -{Stealth[length=5pt,width=4pt]}]
\draw (axis cs:26.331,110.3) -- (axis cs:26.190,35.4);
\draw (axis cs:26.458,110.3) -- (axis cs:26.440,88.7);
\draw (axis cs:26.458,110.3) -- (axis cs:26.853,31.3);
\draw (axis cs:26.599,110.3) -- (axis cs:26.962,49.7);
\draw (axis cs:26.729,110.3) -- (axis cs:27.022,72.1);
\draw (axis cs:26.817,110.3) -- (axis cs:27.001,106.0);
\end{scope}

% tsunami arrival
\node[text=tatred, font=\wideR\fontsize{7.5}{9}\selectfont] at (axis cs:27.311,115.0) {TAT};
\node[draw=tsubox, fill=white, line width=0.6pt, inner xsep=3pt, inner ysep=0pt, minimum height=9.1pt,
      text=seiche, font=\wideR\fontsize{8}{9}\selectfont] at (axis cs:27.920,116.0) {Tsunami};
\begin{scope}[tatred, line width=0.9pt, -{Stealth[length=6.5pt,width=4.5pt]}]
\draw (axis cs:27.311,111.5) -- (axis cs:27.311,104.4);
\draw (axis cs:27.364,78.7) -- (axis cs:27.364,71.8);
\draw (axis cs:27.392,56.6) -- (axis cs:27.392,49.7);
\draw (axis cs:27.381,36.5) -- (axis cs:27.381,29.6);
\end{scope}

% station names
\begin{scope}[every node/.style={anchor=east, text=black!85, font=\wideB\bfseries\fontsize{10}{11}\selectfont}]
\node at (axis cs:31.003,105.6) {Halifax\ \ (NS)};
\node at (axis cs:31.003,73.8) {Atlantic City\ \ (NJ)};
\node at (axis cs:31.003,50.7) {Cape May\ \ (NJ)};
\node at (axis cs:31.003,31.8) {Trident Pier (Fl)};
\end{scope}
\end{axis}

% title and labels
\node[anchor=west, text=black!85, font=\wideB\bfseries\fontsize{11.5}{13}\selectfont] at (0.78,11.08) {Atlantic\ \ Ocean};
\node[rotate=90, text=black!85, font=\fontsize{11.5}{13}\selectfont] at (0.32,6.07) {Sea\ \ level};
\node[text=black!85, font=\wideX\fontsize{10.2}{12}\selectfont] at (8.80,0.21) {December\ \ 2004};

% 20 cm scale bar
\begin{scope}[black!80, line width=0.6pt]
\draw (17.52,6.67) -- (17.52,8.245);
\draw (17.34,6.67) -- (17.68,6.67);
\draw (17.34,8.245) -- (17.68,8.245);
\draw (17.47,7.46) -- (17.57,7.46);
\end{scope}
\node[rotate=90, text=black!85, font=\fontsize{10}{12}\selectfont] at (17.89,7.49) {20 cm};
\end{tikzpicture}
\end{document}
